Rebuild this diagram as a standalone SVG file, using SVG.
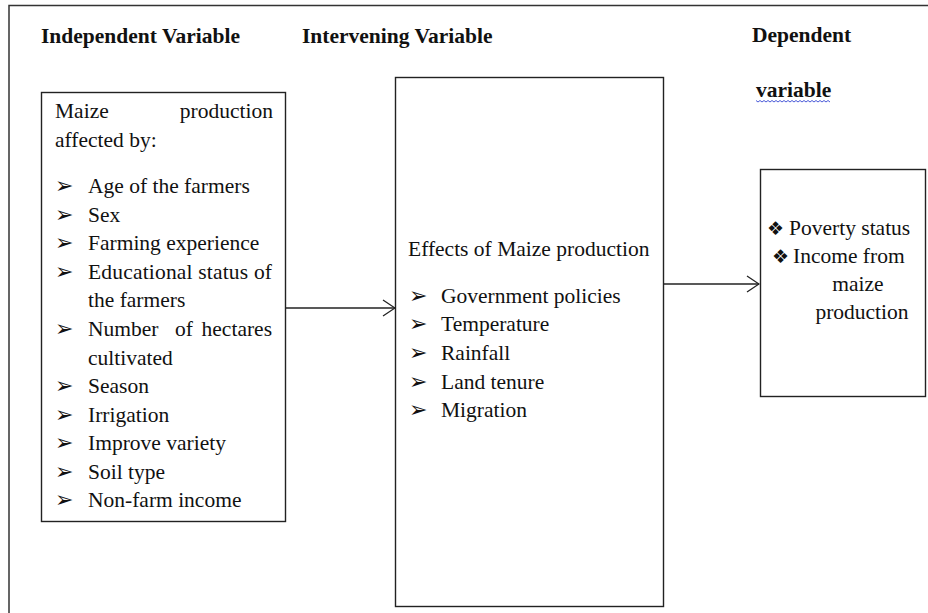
<svg xmlns="http://www.w3.org/2000/svg" width="928" height="613" viewBox="0 0 928 613">
  <style>
    .frame { fill: none; stroke: #333; stroke-width: 1.5; }
    .box { fill: #fff; stroke: #222; stroke-width: 1.4; }
    .hdr { font-family: "Liberation Serif", "Times New Roman", serif; font-size: 21.5px; font-weight: bold; fill: #111; }
    .t { font-family: "Liberation Serif", "Times New Roman", serif; font-size: 21.5px; fill: #111; }
    .blt { font-family: "DejaVu Sans", sans-serif; font-size: 22px; fill: #111; }
    .dia { font-family: "DejaVu Sans", sans-serif; font-size: 19px; fill: #111; }
    .conn { fill: none; stroke: #222; stroke-width: 1.3; }
    .wavy { fill: none; stroke: #4a5ad8; stroke-width: 1; }
  </style>
  <defs>
    <marker id="openArrow" markerWidth="14" markerHeight="18" refX="13" refY="9" orient="auto" markerUnits="userSpaceOnUse">
      <path d="M1,1 L13,9 L1,17" fill="none" stroke="#222" stroke-width="1.3"/>
    </marker>
  </defs>

  <rect width="928" height="613" fill="#fff"/>

  <!-- outer frame (top and left edges visible) -->
  <path class="frame" d="M9,613 L9,5.5 L928,5.5"/>

  <!-- headers -->
  <g id="headers">
    <text class="hdr" x="41" y="43">Independent Variable</text>
    <text class="hdr" x="302" y="43">Intervening Variable</text>
    <text class="hdr" x="752" y="42">Dependent</text>
    <text class="hdr" x="756" y="97">variable</text>
    <path class="wavy" d="M756,100.5 l2,1.5 l2,-1.5 l2,1.5 l2,-1.5 l2,1.5 l2,-1.5 l2,1.5 l2,-1.5 l2,1.5 l2,-1.5 l2,1.5 l2,-1.5 l2,1.5 l2,-1.5 l2,1.5 l2,-1.5 l2,1.5 l2,-1.5 l2,1.5 l2,-1.5 l2,1.5 l2,-1.5 l2,1.5 l2,-1.5 l2,1.5 l2,-1.5 l2,1.5 l2,-1.5 l2,1.5 l2,-1.5 l2,1.5 l2,-1.5 l2,1.5 l2,-1.5 l2,1.5 l2,-1.5 l2,1.5"/>
  </g>

  <!-- connectors -->
  <g id="connectors">
    <line class="conn" x1="286" y1="308" x2="395" y2="308" marker-end="url(#openArrow)"/>
    <line class="conn" x1="664" y1="284" x2="759" y2="284" marker-end="url(#openArrow)"/>
  </g>

  <!-- independent variable node -->
  <g id="independent">
    <rect class="box" x="41.5" y="92.5" width="244" height="429"/>
    <text class="t" x="55" y="118">Maize</text>
    <text class="t" x="273" y="118" text-anchor="end">production</text>
    <text class="t" x="55" y="146.5">affected by:</text>
    <g class="blt">
      <text x="55" y="193">➢</text>
      <text x="55" y="221.5">➢</text>
      <text x="55" y="250">➢</text>
      <text x="55" y="278.5">➢</text>
      <text x="55" y="335.5">➢</text>
      <text x="55" y="393">➢</text>
      <text x="55" y="421.5">➢</text>
      <text x="55" y="450">➢</text>
      <text x="55" y="478.5">➢</text>
      <text x="55" y="507">➢</text>
    </g>
    <text class="t" x="88" y="193">Age of the farmers</text>
    <text class="t" x="88" y="221.5">Sex</text>
    <text class="t" x="88" y="250">Farming experience</text>
    <text class="t" x="88" y="278.5" textLength="184" lengthAdjust="spacing">Educational status of</text>
    <text class="t" x="88" y="307">the farmers</text>
    <text class="t" x="88" y="335.5">Number</text>
    <text class="t" x="184" y="335.5" text-anchor="middle">of</text>
    <text class="t" x="272" y="335.5" text-anchor="end">hectares</text>
    <text class="t" x="88" y="364.5">cultivated</text>
    <text class="t" x="88" y="393">Season</text>
    <text class="t" x="88" y="421.5">Irrigation</text>
    <text class="t" x="88" y="450">Improve variety</text>
    <text class="t" x="88" y="478.5">Soil type</text>
    <text class="t" x="88" y="507">Non-farm income</text>
  </g>

  <!-- intervening variable node -->
  <g id="intervening">
    <rect class="box" x="395.5" y="77.5" width="268" height="529"/>
    <text class="t" x="408" y="256">Effects of Maize production</text>
    <g class="blt">
      <text x="409" y="302.5">➢</text>
      <text x="409" y="331">➢</text>
      <text x="409" y="360">➢</text>
      <text x="409" y="389">➢</text>
      <text x="409" y="417">➢</text>
    </g>
    <text class="t" x="441" y="302.5">Government policies</text>
    <text class="t" x="441" y="331">Temperature</text>
    <text class="t" x="441" y="360">Rainfall</text>
    <text class="t" x="441" y="389">Land tenure</text>
    <text class="t" x="441" y="417">Migration</text>
  </g>

  <!-- dependent variable node -->
  <g id="dependent">
    <rect class="box" x="760.5" y="169.5" width="165" height="227"/>
    <text class="dia" x="767" y="234.5">❖</text>
    <text class="t" x="789" y="234.5">Poverty status</text>
    <text class="dia" x="772" y="262.5">❖</text>
    <text class="t" x="793" y="262.5">Income from</text>
    <text class="t" x="858" y="290.5" text-anchor="middle">maize</text>
    <text class="t" x="862" y="318.5" text-anchor="middle">production</text>
  </g>
</svg>
